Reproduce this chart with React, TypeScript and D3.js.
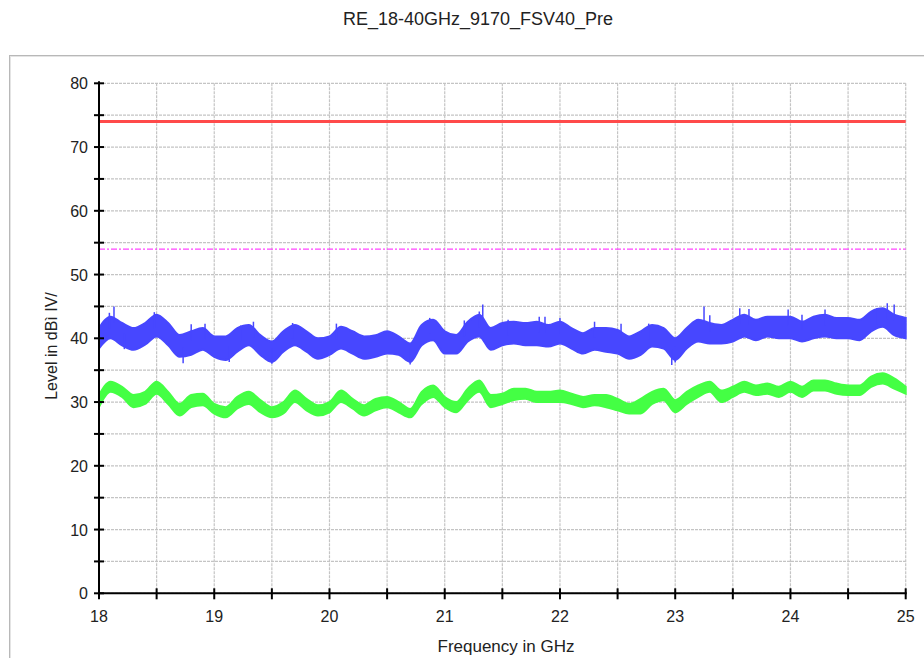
import React from "react";
import * as d3 from "d3";

const freqGHz = [
  18.0, 18.1, 18.2, 18.3, 18.4, 18.5, 18.6, 18.7, 18.8, 18.9,
  19.0, 19.1, 19.2, 19.3, 19.4, 19.5, 19.6, 19.7, 19.8, 19.9,
  20.0, 20.1, 20.2, 20.3, 20.4, 20.5, 20.6, 20.7, 20.8, 20.9,
  21.0, 21.1, 21.2, 21.3, 21.4, 21.5, 21.6, 21.7, 21.8, 21.9,
  22.0, 22.1, 22.2, 22.3, 22.4, 22.5, 22.6, 22.7, 22.8, 22.9,
  23.0, 23.1, 23.2, 23.3, 23.4, 23.5, 23.6, 23.7, 23.8, 23.9,
  24.0, 24.1, 24.2, 24.3, 24.4, 24.5, 24.6, 24.7, 24.8, 24.9, 25.0,
];

const peakUpper = [
  41.6, 43.4, 42.4, 41.6, 42.4, 43.7, 42.4, 40.5, 41.1, 41.6,
  40.3, 40.3, 41.6, 42.1, 40.5, 39.5, 41.1, 42.1, 41.1, 40.0,
  40.3, 41.8, 41.1, 40.3, 40.5, 41.1, 40.3, 39.2, 42.1, 42.9,
  41.1, 40.5, 42.6, 43.7, 41.6, 42.4, 42.6, 42.4, 42.6, 42.1,
  42.6, 41.6, 40.8, 41.6, 41.6, 41.3, 40.3, 41.1, 42.1, 41.6,
  40.0, 41.6, 42.9, 42.4, 42.1, 42.9, 43.7, 42.9, 43.4, 43.4,
  43.4, 42.6, 43.4, 43.7, 43.2, 43.2, 42.9, 44.2, 44.7, 43.7, 43.2,
];
const peakLower = [
  38.4, 40.0, 38.9, 38.2, 39.0, 40.3, 38.9, 37.1, 37.4, 38.2,
  37.1, 36.6, 37.9, 38.9, 37.4, 36.3, 37.9, 38.9, 37.9, 36.8,
  37.4, 38.4, 37.6, 36.8, 37.1, 37.6, 37.4, 36.3, 38.9, 39.7,
  37.6, 37.6, 39.5, 40.3, 38.2, 38.9, 39.2, 38.9, 38.9, 38.7,
  39.2, 38.4, 37.6, 38.2, 37.9, 37.6, 36.8, 37.4, 38.7, 38.4,
  36.6, 38.4, 39.5, 39.2, 39.2, 39.5, 40.3, 39.7, 40.3, 40.0,
  40.0, 39.5, 40.0, 40.3, 40.0, 40.0, 39.7, 41.1, 41.8, 40.5, 40.0,
];
const avgUpper = [
  31.1, 33.2, 32.4, 31.1, 31.6, 33.2, 31.6, 29.7, 31.1, 31.3,
  29.7, 29.2, 30.8, 31.6, 30.3, 29.2, 30.0, 31.8, 30.5, 29.5,
  30.0, 31.8, 30.5, 29.5, 30.5, 30.8, 30.0, 28.9, 31.6, 32.6,
  30.8, 30.0, 32.1, 33.4, 31.1, 31.3, 32.1, 32.1, 31.6, 31.6,
  31.8, 31.3, 30.8, 31.1, 31.1, 30.5, 29.7, 30.5, 31.6, 32.1,
  30.3, 31.6, 32.6, 33.2, 31.8, 32.4, 33.2, 32.6, 32.9, 32.4,
  33.2, 32.4, 33.4, 33.4, 32.9, 32.6, 32.6, 34.0, 34.5, 33.7, 32.4,
];
const avgLower = [
  29.2, 31.6, 30.8, 29.2, 29.7, 31.3, 29.7, 27.9, 29.2, 29.5,
  28.2, 27.6, 29.0, 29.7, 28.4, 27.6, 28.2, 30.0, 28.7, 27.9,
  28.4, 30.0, 29.0, 27.9, 28.7, 29.2, 28.4, 27.6, 29.7, 30.8,
  29.2, 28.4, 30.3, 31.6, 29.2, 29.7, 30.3, 30.5, 30.0, 30.0,
  30.0, 29.7, 29.2, 29.5, 29.2, 28.7, 28.2, 28.2, 29.7, 30.3,
  28.4, 29.7, 30.8, 31.6, 30.0, 30.8, 31.6, 31.1, 31.3, 30.8,
  31.6, 30.8, 31.8, 31.8, 31.3, 31.1, 31.1, 32.4, 32.9, 32.1, 31.3,
];

const peakSpikeFreq = [18.09, 18.13, 18.48, 18.8, 18.92, 19.23, 19.34, 19.68, 20.06, 20.87, 21.17, 21.3, 21.33, 21.55, 21.82, 21.87, 22.0, 22.3, 22.53, 22.77, 23.25, 23.3, 23.56, 23.64, 23.98, 24.1, 24.3, 24.75, 24.84, 24.9];
const peakSpikeTop = [44.0, 45.0, 44.1, 42.2, 42.3, 42.0, 42.6, 42.4, 42.3, 43.2, 42.8, 44.2, 45.3, 42.9, 43.4, 43.4, 43.2, 42.6, 42.3, 42.3, 45.0, 43.6, 44.7, 44.6, 44.5, 43.7, 44.5, 44.7, 45.5, 45.3];
const peakDipFreq = [18.22, 18.73, 19.13, 19.5, 20.7, 22.97, 23.0];
const peakDipBottom = [38.3, 36.1, 36.3, 36.0, 35.9, 35.8, 36.2];

const limitPeak = 74;
const limitAvg = 54;

const yMajorTicks = [0, 10, 20, 30, 40, 50, 60, 70, 80];
const yGridTicks = [0, 5, 10, 15, 20, 25, 30, 35, 40, 45, 50, 55, 60, 65, 70, 75, 80];
const xMajorTicks = [18, 19, 20, 21, 22, 23, 24, 25];
const xGridTicks = [18, 18.5, 19, 19.5, 20, 20.5, 21, 21.5, 22, 22.5, 23, 23.5, 24, 24.5, 25];

const titleText = "RE_18-40GHz_9170_FSV40_Pre";
const yLabel = "Level in dBì IV/";
const xLabel = "Frequency in GHz";

const W = 924;
const H = 658;
const L = 99;
const R = 905.7;
const T = 83.3;
const B = 593.3;

export default function App() {
  const x = d3.scaleLinear().domain([18, 25]).range([L, R]);
  const y = d3.scaleLinear().domain([0, 80]).range([B, T]);
  const font = "'Liberation Sans', Arial, sans-serif";

  const band = (lo: number[], hi: number[]) =>
    d3
      .area<number>()
      .x((_, i) => x(freqGHz[i]))
      .y0((_, i) => y(lo[i]))
      .y1((_, i) => y(hi[i]))
      .curve(d3.curveMonotoneX)(freqGHz) || "";

  const blue = "#4747ff";
  const green = "#44ff44";

  return (
    <div style={{ position: "absolute", left: 0, top: 0 }}>
      <svg width={W} height={H} style={{ display: "block", background: "#fff" }}>
        <text x={478} y={25} fontFamily={font} fontSize={18} textAnchor="middle" fill="#222" textLength={270} lengthAdjust="spacingAndGlyphs">
          {titleText}
        </text>
        <rect x={9.5} y={55.5} width={1000} height={700} fill="none" stroke="#b8b8b8" strokeWidth={1} />
        <rect x={10.5} y={56.5} width={1000} height={700} fill="none" stroke="#e4e4e4" strokeWidth={1} />

        {yGridTicks.map((t) => (
          <line key={"gy" + t} x1={L} x2={R} y1={y(t)} y2={y(t)} stroke="#c4c4c4" strokeWidth={1.2} strokeDasharray="3 1" />
        ))}
        {xGridTicks.map((t) => (
          <line key={"gx" + t} x1={x(t)} x2={x(t)} y1={T} y2={B} stroke="#c4c4c4" strokeWidth={1.2} strokeDasharray="3 1" />
        ))}

        <line x1={L} x2={R} y1={y(limitPeak)} y2={y(limitPeak)} stroke="#ff4a4a" strokeWidth={3} />
        <line x1={L} x2={R} y1={y(limitAvg)} y2={y(limitAvg)} stroke="#ff44ff" strokeWidth={1.3} strokeDasharray="6 2 2 2" />

        <path d={band(avgLower, avgUpper)} fill={green} stroke={green} strokeWidth={2} />
        <path d={band(peakLower, peakUpper)} fill={blue} stroke={blue} strokeWidth={2} />
        {peakSpikeFreq.map((f, i) => (
          <line key={"ps" + i} x1={x(f)} x2={x(f)} y1={y(peakSpikeTop[i])} y2={y(peakSpikeTop[i] - 2.5)} stroke={blue} strokeWidth={1.5} />
        ))}
        {peakDipFreq.map((f, i) => (
          <line key={"pd" + i} x1={x(f)} x2={x(f)} y1={y(peakDipBottom[i])} y2={y(peakDipBottom[i] + 2.5)} stroke={blue} strokeWidth={1.5} />
        ))}

        <line x1={L} x2={L} y1={T - 2} y2={B + 1} stroke="#000" strokeWidth={2} />
        <line x1={L - 1} x2={R + 1} y1={B} y2={B} stroke="#000" strokeWidth={2} />
        {yGridTicks.map((t) => (
          <line key={"ty" + t} x1={L - 5} x2={L + 5} y1={y(t)} y2={y(t)} stroke="#000" strokeWidth={2} />
        ))}
        {xGridTicks.map((t) => (
          <line key={"tx" + t} x1={x(t)} x2={x(t)} y1={B - 5} y2={B + 6} stroke="#000" strokeWidth={2} />
        ))}
        {yMajorTicks.map((t) => (
          <text key={"ly" + t} x={88} y={y(t) + 6} fontFamily={font} fontSize={16} textAnchor="end" fill="#222">
            {t}
          </text>
        ))}
        {xMajorTicks.map((t) => (
          <text key={"lx" + t} x={x(t)} y={622} fontFamily={font} fontSize={16} textAnchor="middle" fill="#222">
            {t}
          </text>
        ))}
        <text x={57} y={346} transform="rotate(-90 57 346)" fontFamily={font} fontSize={16} textAnchor="middle" fill="#222">
          {yLabel}
        </text>
        <text x={506} y={652} fontFamily={font} fontSize={17} textAnchor="middle" fill="#222">
          {xLabel}
        </text>
      </svg>
    </div>
  );
}
